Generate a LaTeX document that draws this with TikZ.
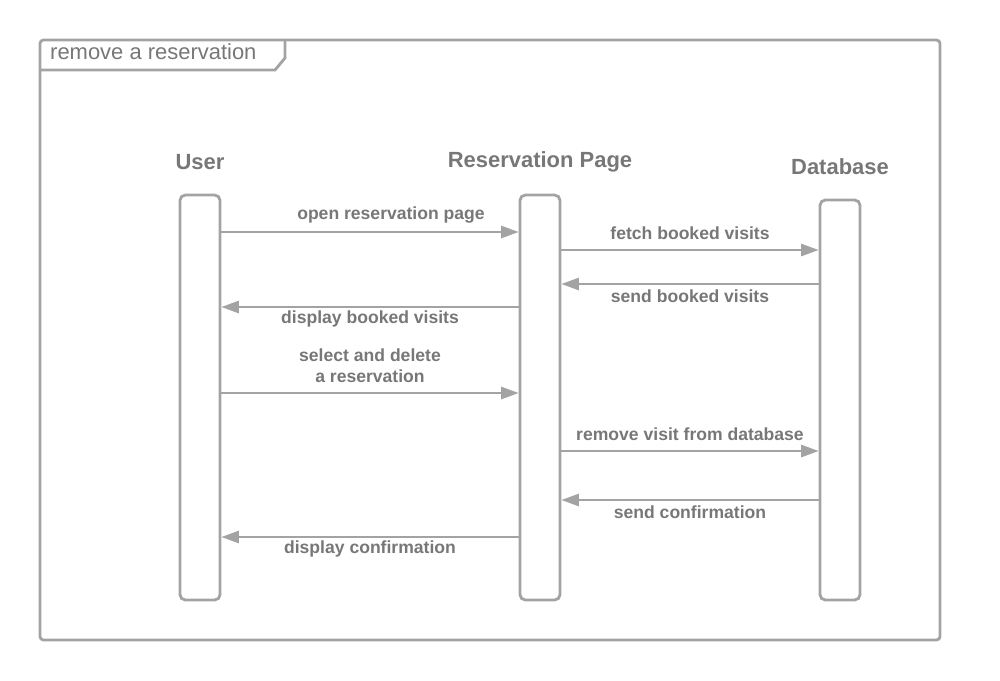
\documentclass[tikz,border=0pt]{standalone}
\usepackage{fontspec}
\setmainfont{Liberation Sans}
\usetikzlibrary{arrows.meta}
\definecolor{linegray}{HTML}{A3A3A3}
\definecolor{textgray}{HTML}{777777}
\tikzset{
    lifebox/.style={draw=linegray, line width=1.6pt, rounded corners=3pt,
        minimum width=0.8cm, inner sep=0pt},
    header/.style={text=textgray, font=\fontsize{12.5}{15}\selectfont\bfseries},
    msg/.style={text=textgray, font=\fontsize{10}{12}\selectfont\bfseries, align=center},
    call/.style={color=linegray, line width=1.1pt,
        -{Triangle[length=10pt, width=7pt]}}
}
\begin{document}
\begin{tikzpicture}[x=0.02cm, y=-0.02cm]
    \useasboundingbox (0,0) rectangle (1000,680);

    % frame
    \draw[draw=linegray, line width=1.6pt, rounded corners=2pt] (40,40) rectangle (940,640);
    \draw[draw=linegray, line width=1.6pt] (40,70) -- (275,70) -- (285,58) -- (285,40);
    \node[anchor=west, text=textgray, font=\fontsize{12.5}{15}\selectfont] (title) at (44,52) {remove a reservation};

    % lifelines
    \node[header] (huser) at (200,162) {User};
    \node[header] (hpage) at (540,162) {Reservation Page};
    \node[header] (hdb) at (840,167) {Database};

    \node[lifebox, minimum height=8.1cm] (user) at (200,397.5) {};
    \node[lifebox, minimum height=8.1cm] (page) at (540,397.5) {};
    \node[lifebox, minimum height=8cm] (db) at (840,400) {};

    % message heights
    \coordinate (m1) at (0,232);
    \coordinate (m2) at (0,250);
    \coordinate (m3) at (0,284);
    \coordinate (m4) at (0,307);
    \coordinate (m5) at (0,393);
    \coordinate (m6) at (0,451);
    \coordinate (m7) at (0,500);
    \coordinate (m8) at (0,537);

    \path (user.east |- m1) edge[call] (page.west |- m1);
    \path (page.east |- m2) edge[call] (db.west |- m2);
    \path (db.west |- m3) edge[call] (page.east |- m3);
    \path (page.west |- m4) edge[call] (user.east |- m4);
    \path (user.east |- m5) edge[call] (page.west |- m5);
    \path (page.east |- m6) edge[call] (db.west |- m6);
    \path (db.west |- m7) edge[call] (page.east |- m7);
    \path (page.west |- m8) edge[call] (user.east |- m8);

    % labels
    \node[msg] (l1) at (391,215) {open reservation page};
    \node[msg] (l2) at (690,233) {fetch booked visits};
    \node[msg] (l3) at (690,296) {send booked visits};
    \node[msg] (l4) at (370,319) {display booked visits};
    \node[msg] (l5) at (370,366) {select and delete\\a reservation};
    \node[msg] (l6) at (690,434) {remove visit from database};
    \node[msg] (l7) at (690,512) {send confirmation};
    \node[msg] (l8) at (370,549) {display confirmation};
\end{tikzpicture}
\end{document}
